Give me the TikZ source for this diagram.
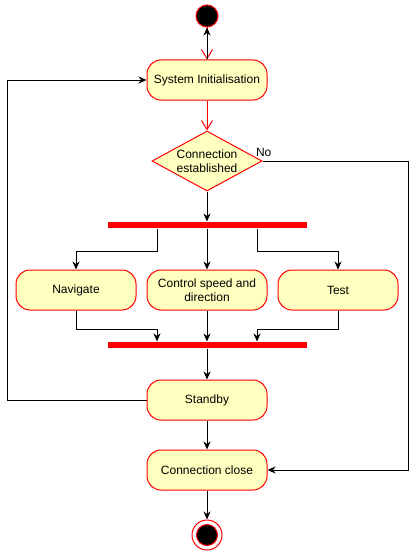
\documentclass[tikz,border=0pt]{standalone}
\usepackage{fontspec}
\setmainfont{Liberation Sans}
\usetikzlibrary{positioning,shapes.geometric,arrows.meta}
\definecolor{actfill}{HTML}{FFFFC0}

\begin{document}
\begin{tikzpicture}[x=1pt,y=1pt,font=\fontsize{12}{14}\selectfont,line width=1pt,
	startnode/.style={circle,draw=red,fill=black,inner sep=0pt,minimum size=22pt},
	stopnode/.style={circle,draw=red,fill=white,inner sep=0pt,minimum size=30pt,
		path picture={\filldraw[draw=red,fill=black] (path picture bounding box.center) circle (10.5pt);}},
	actnode/.style={rectangle,rounded corners=14pt,draw=red,fill=actfill,minimum width=120pt,minimum height=40pt,align=center,inner sep=2pt},
	decnode/.style={diamond,draw=red,fill=actfill,aspect=1.83,inner sep=0pt,minimum width=110pt,minimum height=60pt,align=center},
	barnode/.style={rectangle,fill=red,inner sep=0pt,minimum width=199pt,minimum height=6pt},
	flow/.style={-{Stealth[length=8pt,width=7pt,inset=2.5pt]}},
	openflow/.style={draw=red,-{Straight Barb[length=9pt,width=11pt,line width=1pt]}}]
			\useasboundingbox (0,0) rectangle (417,-551);

			\node[startnode]						(start)		at (207,-16)	{};
			\node[actnode]							(init)		at (207,-80)	{System Initialisation};
			\node[decnode]							(conn)		at (207,-161)	{Connection\\established};
			\node[barnode]							(fork)		at (207,-225)	{};
			\node[actnode]							(ctrl)		at (207,-290)	{Control speed and\\direction};
			\node[actnode,left=10pt of ctrl]		(nav)		{Navigate};
			\node[actnode,right=10pt of ctrl]		(test)		{Test};
			\node[barnode]							(join)		at (207,-345)	{};
			\node[actnode]							(standby)	at (207,-400)	{Standby};
			\node[actnode]							(close)		at (207,-470)	{Connection close};
			\node[stopnode]							(stop)		at (207,-535)	{};

			\coordinate								(lt)		at (7,0);
			\coordinate								(rt)		at (408,0);

			\draw[openflow] (start) -- (init);
			\draw[flow] (init) -- (start);
			\draw[openflow] (init) -- (conn);
			\draw[flow] (conn) -- (fork);
			\draw[flow] (conn.east) node[anchor=south west,inner sep=0pt,xshift=-7pt,yshift=4pt] {No} -- (conn.east -| rt) |- (close.east);

			\draw[flow] ([xshift=-50pt]fork.south) -- ++(0,-23) -| (nav.north);
			\draw[flow] (fork) -- (ctrl);
			\draw[flow] ([xshift=50pt]fork.south) -- ++(0,-23) -| (test.north);

			\draw[flow] (nav.south) -- ++(0,-19) -| ([xshift=-50pt]join.north);
			\draw[flow] (ctrl) -- (join);
			\draw[flow] (test.south) -- ++(0,-19) -| ([xshift=50pt]join.north);

			\draw[flow] (join) -- (standby);
			\draw[flow] (standby.west) -- (standby.west -| lt) |- (init.west);
			\draw[flow] (standby) -- (close);
			\draw[flow] (close) -- (stop);
		\end{tikzpicture}
\end{document}
